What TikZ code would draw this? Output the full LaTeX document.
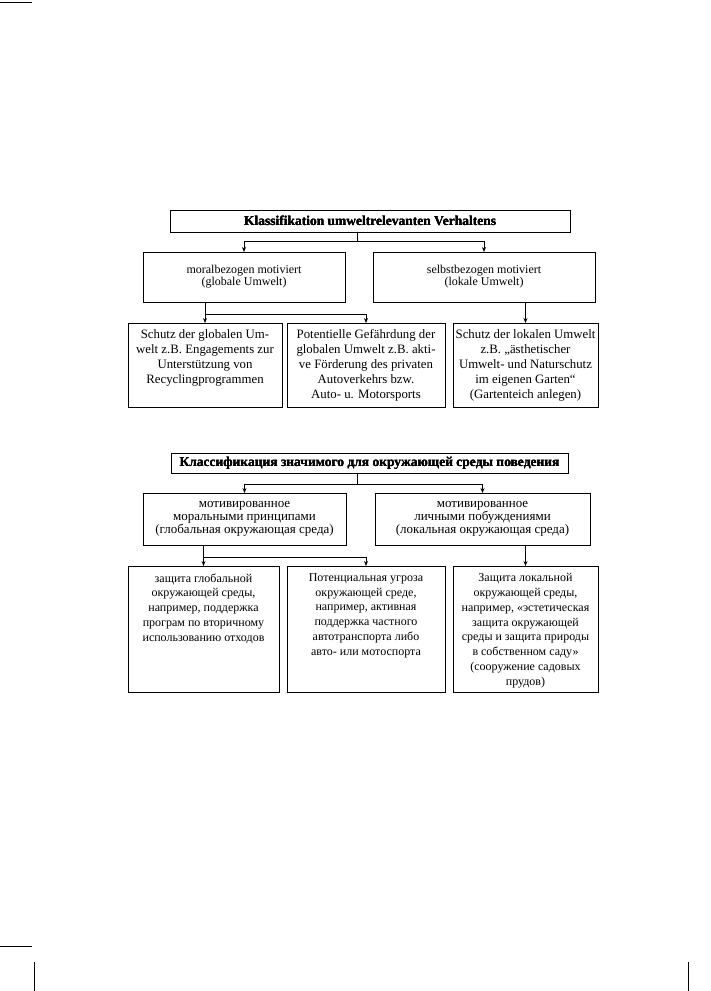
\documentclass[tikz,border=0pt]{standalone}
\usepackage{fontspec}
\setmainfont{Liberation Serif}
\usetikzlibrary{arrows.meta}

% frame node from its corners (pixel units)
\newcommand{\rbox}[5]{\node[box,minimum width={(#4-#2)*1pt},minimum height={(#5-#3)*1pt}] (#1) at (#2,#3) {};}

\begin{document}
\begin{tikzpicture}[x=1pt,y=-1pt,line width=0.9pt,
  box/.style={draw,anchor=north west,inner sep=0pt,outer sep=0pt},
  ttl/.style={inner sep=0pt,font=\bfseries\fontsize{13.5}{14}\selectfont},
  mid/.style={align=center,inner sep=0pt,font=\fontsize{12}{12}\selectfont},
  midru/.style={mid,font=\fontsize{13}{13.3}\selectfont},
  low/.style={align=center,inner sep=0pt,anchor=north,font=\fontsize{12.8}{15}\selectfont},
  lowru/.style={low,font=\fontsize{12}{14.8}\selectfont},
  arr/.style={-{Stealth[length=5pt,width=4pt]}}]
  \useasboundingbox (0,0) rectangle (711,991);

  % crop marks of the page
  \draw (0,2) -- (32,2);
  \draw (0,946) -- (32,946);
  \foreach \x in {34,688} \draw (\x,962) -- (\x,991);

  % German scheme
  \rbox{de-title}{170}{210}{570}{232}
  \rbox{de-l}{143}{252}{345}{302}
  \rbox{de-r}{373}{252}{595}{302}
  \foreach \n/\xa/\xb in {a/128/282,b/287/445,c/453/598} \rbox{de-\n}{\xa}{323}{\xb}{407}
  \node[ttl] (de-title-t) at (de-title.center) {Klassifikation umweltrelevanten Verhaltens};
  \node[mid] (de-l-t) at (de-l.center) {moralbezogen motiviert\\(globale Umwelt)};
  \node[mid] (de-r-t) at (de-r.center) {selbstbezogen motiviert\\(lokale Umwelt)};
  \node[low] (de-a-t) at ([yshift=-6pt]de-a.north) {Schutz der globalen Um-\\welt z.B. Engagements zur\\Unterstützung von\\Recyclingprogrammen};
  \node[low] (de-b-t) at ([yshift=-6pt]de-b.north) {Potentielle Gefährdung der\\globalen Umwelt z.B. akti-\\ve Förderung des privaten\\Autoverkehrs bzw.\\Auto- u. Motorsports};
  \node[low] (de-c-t) at ([yshift=-6pt]de-c.north) {Schutz der lokalen Umwelt\\z.B. „ästhetischer\\Umwelt- und Naturschutz\\im eigenen Garten“\\(Gartenteich anlegen)};

  \coordinate (de-fork) at (357,241);
  \draw (de-title.south -| de-fork) -- (de-fork);
  \draw[arr] (de-fork) -| (de-l.north);
  \draw[arr] (de-fork) -| (de-r.north);
  \coordinate (de-lfork) at (de-a.north |- 0,314);
  \draw (de-l.south -| de-lfork) -- (de-lfork);
  \draw[arr] (de-lfork) -- (de-a.north);
  \draw[arr] (de-lfork) -| (de-b.north);
  \draw[arr] (de-r.south -| de-c.north) -- (de-c.north);

  % Russian scheme
  \rbox{ru-title}{171}{453}{568}{473}
  \rbox{ru-l}{143}{493}{346}{545}
  \rbox{ru-r}{375}{493}{590}{545}
  \foreach \n/\xa/\xb in {a/128/279,b/287/445,c/453/598} \rbox{ru-\n}{\xa}{566}{\xb}{692}
  \node[ttl] (ru-title-t) at (ru-title.center) {Классификация значимого для окружающей среды поведения};
  \node[midru] (ru-l-t) at (ru-l.center) {мотивированное\\моральными принципами\\(глобальная окружающая среда)};
  \node[midru] (ru-r-t) at (ru-r.center) {мотивированное\\личными побуждениями\\(локальная окружающая среда)};
  \node[lowru] (ru-a-t) at ([yshift=-7pt]ru-a.north) {защита глобальной\\окружающей среды,\\например, поддержка\\програм по вторичному\\использованию отходов};
  \node[lowru] (ru-b-t) at ([yshift=-7pt]ru-b.north) {Потенциальная угроза\\окружающей среде,\\например, активная\\поддержка частного\\автотранспорта либо\\авто- или мотоспорта};
  \node[lowru] (ru-c-t) at ([yshift=-7pt]ru-c.north) {Защита локальной\\окружающей среды,\\например, «эстетическая\\защита окружающей\\среды и защита природы\\в собственном саду»\\(сооружение садовых\\прудов)};

  \coordinate (ru-fork) at (357,484);
  \draw (ru-title.south -| ru-fork) -- (ru-fork);
  \draw[arr] (ru-fork) -| (ru-l.north);
  \draw[arr] (ru-fork) -| (ru-r.north);
  \coordinate (ru-lfork) at (ru-a.north |- 0,557);
  \draw (ru-l.south -| ru-lfork) -- (ru-lfork);
  \draw[arr] (ru-lfork) -- (ru-a.north);
  \draw[arr] (ru-lfork) -| (ru-b.north);
  \draw[arr] (ru-r.south -| ru-c.north) -- (ru-c.north);
\end{tikzpicture}
\end{document}
